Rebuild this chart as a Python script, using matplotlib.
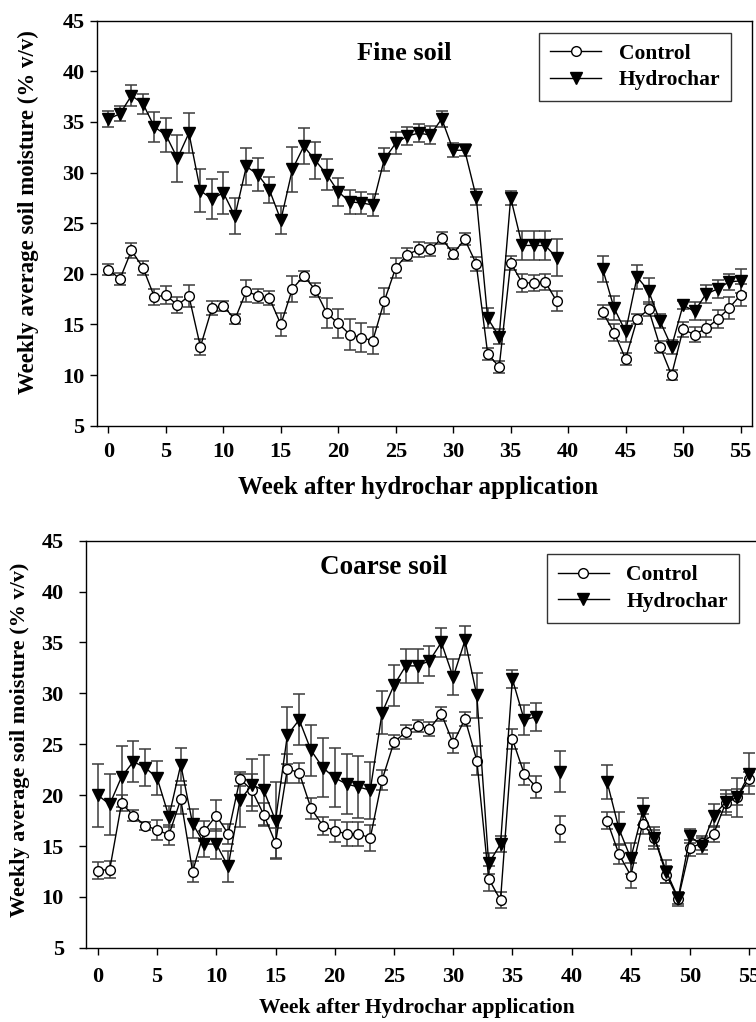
import numpy as np
import matplotlib
matplotlib.use("Agg")
import matplotlib.pyplot as plt

plt.rcParams['font.family'] = ['Liberation Serif', 'DejaVu Serif']
plt.rcParams['font.weight'] = 'bold'

nan = np.nan
weeks = np.arange(0, 56)

# Fine soil (weeks 40-42 not measured)
fine_control = [20.4, 19.5, 22.3, 20.6, 17.7, 17.9, 16.9, 17.8, 12.8, 16.6,
                16.8, 15.5, 18.3, 17.8, 17.6, 15.0, 18.5, 19.8, 18.4, 16.1,
                15.1, 14.0, 13.7, 13.4, 17.3, 20.6, 21.9, 22.4, 22.4, 23.5,
                22.0, 23.4, 21.0, 12.1, 10.8, 21.1, 19.1, 19.1, 19.2, 17.3,
                nan, nan, nan, 16.2, 14.2, 11.6, 15.5, 16.5, 12.8, 10.0,
                14.5, 14.0, 14.6, 15.5, 16.6, 17.9]
fine_control_err = [0.55, 0.6, 0.7, 0.7, 0.8, 0.9, 0.8, 1.1, 0.8, 0.7,
                    0.5, 0.5, 1.1, 0.7, 0.7, 1.1, 1.3, 0.5, 0.7, 1.5,
                    1.4, 1.5, 1.4, 1.3, 1.3, 1.0, 0.6, 0.7, 0.6, 0.6,
                    0.5, 0.6, 0.7, 0.6, 0.6, 0.7, 0.9, 0.8, 0.8, 1.0,
                    nan, nan, nan, 0.7, 0.8, 0.6, 0.5, 0.7, 0.6, 0.5,
                    0.7, 0.7, 0.8, 0.9, 1.1, 1.1]
fine_hydro = [35.3, 35.8, 37.6, 36.8, 34.5, 33.7, 31.4, 33.9, 28.2, 27.4,
              28.0, 25.7, 30.6, 29.8, 28.3, 25.3, 30.3, 32.6, 31.2, 29.8,
              28.1, 27.1, 27.0, 26.8, 31.3, 32.9, 33.6, 33.9, 33.7, 35.3,
              32.2, 32.2, 27.6, 15.6, 13.8, 27.5, 22.8, 22.8, 22.8, 21.6,
              nan, nan, nan, 20.5, 16.6, 14.3, 19.7, 18.3, 15.3, 12.8,
              16.9, 16.3, 18.0, 18.5, 19.2, 19.3]
fine_hydro_err = [0.8, 0.75, 1.0, 1.0, 1.5, 1.7, 2.3, 2.0, 2.1, 2.0,
                  2.1, 1.8, 1.8, 1.6, 1.3, 1.4, 2.2, 1.8, 1.8, 1.5,
                  1.4, 1.2, 1.1, 1.1, 1.1, 1.1, 0.9, 0.9, 0.9, 0.8,
                  0.7, 0.6, 0.8, 1.0, 0.7, 0.7, 1.4, 1.4, 1.4, 1.8,
                  nan, nan, nan, 1.3, 1.2, 1.0, 1.2, 1.3, 0.7, 0.7,
                  0.4, 0.9, 0.9, 0.9, 0.8, 1.2]

# Coarse soil (weeks 38 and 40-42 not measured)
coarse_control = [12.6, 12.7, 19.2, 18.0, 17.0, 16.6, 16.1, 19.6, 12.5, 16.5,
                  18.0, 16.2, 21.6, 20.5, 18.1, 15.3, 22.6, 22.2, 18.7, 17.0,
                  16.5, 16.2, 16.2, 15.8, 21.5, 25.2, 26.2, 26.8, 26.5, 28.0,
                  25.1, 27.5, 23.4, 11.8, 9.7, 25.5, 22.1, 20.8, nan, 16.7,
                  nan, nan, nan, 17.5, 14.2, 12.1, 17.2, 15.8, 12.2, 9.8,
                  14.8, 15.3, 16.2, 19.2, 19.8, 21.6]
coarse_control_err = [0.85, 0.85, 0.8, 0.5, 0.4, 1.0, 1.0, 1.4, 1.0, 1.0,
                      1.5, 1.0, 0.7, 1.6, 1.1, 1.5, 1.4, 1.0, 1.0, 0.9,
                      1.1, 1.2, 1.2, 1.3, 1.0, 0.7, 0.7, 0.6, 0.7, 0.7,
                      1.0, 0.7, 1.4, 1.2, 0.8, 1.0, 1.1, 1.1, nan, 1.3,
                      nan, nan, nan, 0.8, 1.0, 1.2, 1.0, 0.8, 0.8, 0.7,
                      0.8, 0.7, 0.8, 0.9, 0.8, 0.7]
coarse_hydro = [20.0, 19.1, 21.8, 23.3, 22.7, 21.7, 17.9, 23.0, 17.2, 15.2,
                15.2, 13.0, 19.5, 21.0, 20.5, 17.5, 25.9, 27.4, 24.4, 22.7,
                21.7, 21.1, 20.8, 20.5, 28.1, 30.8, 32.7, 32.7, 33.2, 35.0,
                31.6, 35.2, 29.8, 13.3, 15.2, 31.4, 27.4, 27.7, nan, 22.3,
                nan, nan, nan, 21.3, 16.7, 13.8, 18.4, 15.8, 12.5, 9.9,
                16.0, 15.0, 18.0, 19.3, 19.8, 22.1]
coarse_hydro_err = [3.1, 3.0, 3.0, 2.0, 1.8, 1.7, 1.0, 1.6, 1.4, 1.3,
                    1.5, 1.5, 2.6, 2.6, 3.4, 3.8, 2.8, 2.5, 2.5, 2.9,
                    2.9, 2.9, 3.0, 2.8, 2.1, 2.0, 1.7, 1.7, 1.5, 1.4,
                    1.8, 1.4, 2.2, 1.0, 0.8, 0.9, 1.5, 1.4, nan, 2.0,
                    nan, nan, nan, 1.7, 1.6, 1.5, 1.3, 1.1, 1.1, 0.6,
                    0.7, 0.8, 1.1, 1.2, 1.9, 2.0]

xticks = np.arange(0, 56, 5)
yticks = np.arange(5, 46, 5)

fig = plt.figure(figsize=(7.56, 10.22), dpi=100)
ax1 = fig.add_axes([0.1283, 0.5835, 0.8664, 0.3963])
# the lower panel runs past the right edge of the figure, as in the original
ax2 = fig.add_axes([0.1138, 0.0725, 0.8929, 0.3985])


def draw(ax, ctrl, ctrl_err, hyd, hyd_err, title, tx, ty, tsize, xlabel, xl_size,
         yl_size, leg_anchor, ypad, xpad):
    ax.errorbar(weeks, ctrl, yerr=ctrl_err, fmt='none', ecolor='#3c3c3c',
                elinewidth=1.1, capsize=4.5, capthick=1.1, zorder=1)
    ax.errorbar(weeks, hyd, yerr=hyd_err, fmt='none', ecolor='#3c3c3c',
                elinewidth=1.1, capsize=4.5, capthick=1.1, zorder=1)
    ax.plot(weeks, ctrl, '-', color='k', lw=1, marker='o', ms=7,
            mfc='white', mec='k', mew=1, zorder=3, label='Control')
    ax.plot(weeks, hyd, '-', color='k', lw=1, marker='v', ms=8,
            mfc='k', mec='k', zorder=3, label='Hydrochar')
    ax.set_xlim(-1, 56)
    ax.set_ylim(5, 45)
    ax.set_xticks(xticks)
    ax.set_yticks(yticks)
    ax.tick_params(direction='out', length=5, width=1, labelsize=16,
                   top=False, right=False)
    ax.tick_params(axis='y', pad=ypad)
    ax.tick_params(axis='x', pad=xpad)
    for s in ax.spines.values():
        s.set_linewidth(1)
    ax.text(tx, ty, title, fontsize=tsize, fontweight='bold', ha='center', va='center')
    ax.set_xlabel(xlabel, fontsize=xl_size, fontweight='bold')
    ax.set_ylabel('Weekly average soil moisture (% v/v)', fontsize=yl_size, fontweight='bold')
    leg = ax.legend(loc='upper right', bbox_to_anchor=leg_anchor, borderaxespad=0,
                    fontsize=15.5, frameon=True, fancybox=False, edgecolor='k',
                    handlelength=2.4, borderpad=0.5, labelspacing=0.3,
                    handletextpad=0.8)
    leg.get_frame().set_linewidth(1)


draw(ax1, fine_control, fine_control_err, fine_hydro, fine_hydro_err,
     'Fine soil', 25.7, 41.8, 19, 'Week after hydrochar application', 18, 16.5,
     (0.968, 0.97), 4, 7)
draw(ax2, coarse_control, coarse_control_err, coarse_hydro, coarse_hydro_err,
     'Coarse soil', 24.1, 42.4, 19.5, 'Week after Hydrochar application', 15.5, 16,
     (0.967, 0.966), 11, 9)

ax1.xaxis.set_label_coords(0.49, -0.125)
ax1.yaxis.set_label_coords(-0.088, 0.528)
ax2.xaxis.set_label_coords(0.49, -0.122)
ax2.yaxis.set_label_coords(-0.083, 0.51)

fig.savefig('out.png', dpi=100)
